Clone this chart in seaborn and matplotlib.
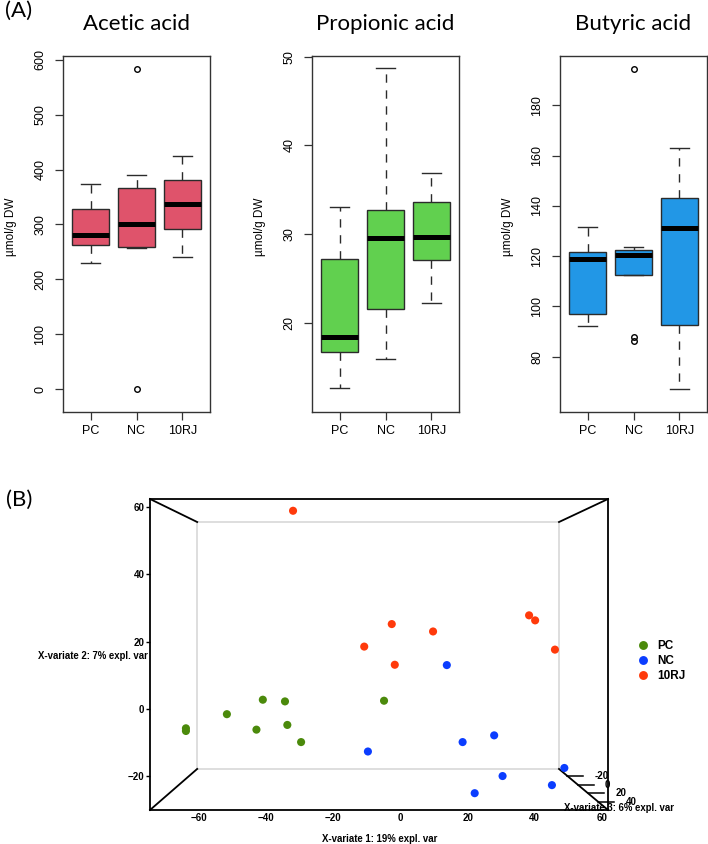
import numpy as np
import pandas as pd
import matplotlib
matplotlib.use("Agg")
import matplotlib.pyplot as plt
import seaborn as sns

# (A) boxplots - samples
groups = ["PC", "NC", "10RJ"]
acid_names = ["Acetic acid", "Propionic acid", "Butyric acid"]
box_colors = ["#DF536B", "#61D04F", "#2297E6"]

acetic_pc = [230, 262, 280, 328, 373]
acetic_nc = [0, 257, 259, 280, 301, 340, 366, 391, 584]
acetic_rj = [240, 291, 337, 381, 425]

propionic_pc = [12.6, 16.7, 18.4, 27.2, 33.0]
propionic_nc = [15.9, 21.5, 29.55, 32.75, 48.7]
propionic_rj = [22.2, 27.05, 29.65, 33.6, 36.9]

butyric_pc = [92.3, 97.0, 119.0, 121.6, 131.5]
butyric_nc = [86.2, 87.8, 112.4, 115.0, 120.6, 121.5, 122.4, 123.8, 194.3]
butyric_rj = [67.1, 92.5, 131.1, 143.3, 163.2]

acid_ticks = [[0, 100, 200, 300, 400, 500, 600], [20, 30, 40, 50], [80, 100, 120, 140, 160, 180]]
acid_ylims = [(-42, 607), (9.9, 50.1), (58.0, 199.6)]

# (B) sample plot, component 1 / component 2
pc_x = [-63.9, -63.9, -51.7, -41.0, -34.4, -42.9, -33.7, -29.6, -4.9]
pc_y = [-5.8, -6.6, -1.6, 2.7, 2.2, -6.2, -4.8, -9.9, 2.4]
nc_x = [-9.7, 13.8, 18.5, 27.9, 48.8, 30.4, 45.1, 22.1]
nc_y = [-12.7, 13.0, -9.9, -7.9, -17.6, -20.0, -22.7, -25.1]
rj_x = [-32.0, -10.8, -2.6, -1.7, 9.7, 38.3, 40.1, 46.0]
rj_y = [58.9, 18.5, 25.2, 13.1, 23.0, 27.8, 26.3, 17.6]
score_colors = {"PC": "#4B8A0B", "NC": "#0B3DFF", "10RJ": "#FF3A0B"}
x_ticks = [-60, -40, -20, 0, 20, 40, 60]
y_ticks = [-20, 0, 20, 40, 60]
z_ticks = [-20, 0, 20, 40]
z_lim = (-36, 59)

plt.rcParams["font.family"] = ["Liberation Sans", "DejaVu Sans"]

fig = plt.figure(figsize=(7.08, 8.44), dpi=100)

acid_data = [
    [acetic_pc, acetic_nc, acetic_rj],
    [propionic_pc, propionic_nc, propionic_rj],
    [butyric_pc, butyric_nc, butyric_rj],
]
lefts = [63 / 708, 312 / 708, 560 / 708]

for i, name in enumerate(acid_names):
    rows = []
    for g, vals in zip(groups, acid_data[i]):
        for v in vals:
            rows.append({"group": g, "value": v})
    df = pd.DataFrame(rows)

    ax = fig.add_axes([lefts[i], 0.5118, 147 / 708, 0.4218])
    sns.boxplot(data=df, x="group", y="value", hue="group", order=groups,
                palette=[box_colors[i]] * 3, saturation=1, legend=False,
                width=0.8, linecolor="#2b2b2b", linewidth=1.0, ax=ax,
                whiskerprops=dict(linestyle=(0, (6, 5.5))),
                medianprops=dict(linewidth=3.6, color="black"),
                flierprops=dict(marker="o", markerfacecolor="none",
                                markeredgecolor="black", markersize=4,
                                markeredgewidth=1.0))
    ax.set_xlim(-0.6, 2.6)
    ax.set_ylim(*acid_ylims[i])
    ax.set_yticks(acid_ticks[i])
    ax.set_xlabel("")
    ax.set_ylabel("µmol/g DW", fontsize=8.5)
    ax.yaxis.set_label_coords(-0.315, 0.52)
    ax.set_title(name, fontsize=16, family="Lato", pad=19)
    ax.tick_params(axis="both", length=6, width=0.9, color="#333333", labelsize=9, pad=6)
    ax.tick_params(axis="x", pad=3.5)
    ax.tick_params(axis="y", labelrotation=90)
    for lab in ax.get_yticklabels():
        lab.set_va("center")
    for sp in ax.spines.values():
        sp.set_color("#333333")
        sp.set_linewidth(1.0)

fig.text(5 / 708, 1 - 1 / 844, "(A)", fontsize=16, family="Lato", va="top", ha="left")
fig.text(6 / 708, 1 - 490 / 844, "(B)", fontsize=16, family="Lato", va="top", ha="left")

# (B)
scores = pd.DataFrame({
    "x1": pc_x + nc_x + rj_x,
    "x2": pc_y + nc_y + rj_y,
    "group": ["PC"] * len(pc_x) + ["NC"] * len(nc_x) + ["10RJ"] * len(rj_x),
})

axb = fig.add_axes([150 / 708, 34 / 844, 458 / 708, 311 / 844])

# back face and edges of the 3d box
bx0, by0, bx1, by1 = 0.103, 0.132, 0.893, 0.926
axb.plot([bx0, bx1, bx1, bx0, bx0], [by0, by0, by1, by1, by0], color="#dedede",
         lw=1.4, transform=axb.transAxes, zorder=1)
for cx, cy, ix, iy in [(0, 1, bx0, by1), (0, 0, bx0, by0), (1, 1, bx1, by1), (1, 0, bx1, by0)]:
    axb.plot([cx, ix], [cy, iy], color="black", lw=1.3, transform=axb.transAxes,
             clip_on=False, zorder=2)

sns.scatterplot(data=scores, x="x1", y="x2", hue="group", hue_order=groups,
                palette=score_colors, s=34, edgecolor="none", ax=axb, zorder=3)

axb.set_xlim(-74.6, 61.8)
axb.set_ylim(-30.1, 62.4)
axb.set_xticks(x_ticks)
axb.set_yticks(y_ticks)
axb.tick_params(axis="x", length=0, pad=2, labelsize=7)
axb.tick_params(axis="y", length=3, width=1, pad=1, labelsize=7)
for lab in axb.get_xticklabels() + axb.get_yticklabels():
    lab.set_fontweight("bold")
for sp in axb.spines.values():
    sp.set_color("black")
    sp.set_linewidth(1.3)

axb.set_xlabel("X-variate 1: 19% expl. var", fontsize=6.9, fontweight="bold")
axb.xaxis.set_label_coords(0.502, -0.077)
axb.set_ylabel("X-variate 2: 7% expl. var", fontsize=6.9, fontweight="bold",
               rotation=0, ha="right", va="center")
axb.yaxis.set_label_coords(-0.004, 0.495)

# third component drawn along the lower right edge
for z in z_ticks:
    t = (z - z_lim[0]) / (z_lim[1] - z_lim[0])
    px = bx1 + t * (1 - bx1)
    py = by0 - t * by0
    axb.plot([px, px + 0.035], [py, py], color="black", lw=1.1,
             transform=axb.transAxes, clip_on=False)
    axb.text(px + 0.06, py, str(z), fontsize=7, fontweight="bold",
             ha="left", va="center", transform=axb.transAxes, clip_on=False)
axb.text(0.904, 0.006, "X-variate 3: 6% expl. var", fontsize=6.9, fontweight="bold",
         ha="left", va="center", transform=axb.transAxes, clip_on=False)

sns.move_legend(axb, loc="center left", bbox_to_anchor=(1.05, 0.48), frameon=False,
                title=None, prop={"weight": "bold", "size": 8.5}, handletextpad=0.2,
                borderpad=0, borderaxespad=0, labelspacing=0.25, markerscale=1.1)

fig.savefig("out.png", dpi=100)
